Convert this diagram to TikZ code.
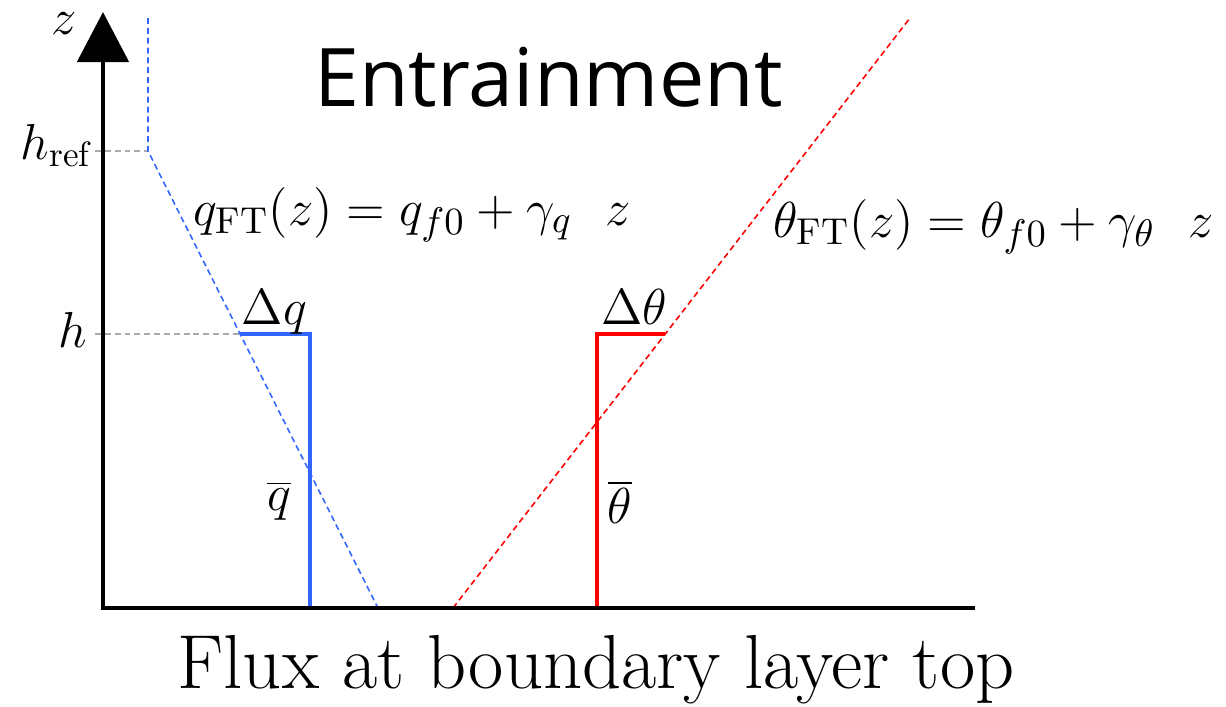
\documentclass[tikz,border=0pt]{standalone}
\usepackage{fontspec}
\newfontfamily\titlefont{Open Sans}
\usetikzlibrary{arrows.meta}
\definecolor{qblue}{RGB}{51,102,255}
\definecolor{tred}{RGB}{255,0,0}
\definecolor{guide}{RGB}{170,170,170}
\tikzset{
  axisline/.style={line width=1.4pt},
  profile/.style={line width=1.4pt, line join=miter},
  ftline/.style={line width=0.45pt, dash pattern=on 1.7pt off 1.1pt},
  guideline/.style={draw=guide, line width=0.45pt, dash pattern=on 1.7pt off 1.1pt},
  mlabel/.style={font=\fontsize{14.3}{17}\selectfont, inner sep=0pt},
  flabel/.style={font=\fontsize{15.2}{18}\selectfont, inner sep=0pt},
}
\begin{document}
\begin{tikzpicture}
\useasboundingbox (0,0) rectangle (12.26,7.06);
% coordinates
\coordinate (O) at (1.03,0.98);
\coordinate (xend) at (9.75,0.98);
\coordinate (ztip) at (1.03,6.94);
\coordinate (hrefax) at (0.95,5.55);
\coordinate (hax) at (0.95,3.72);
\coordinate (btop) at (1.48,6.88);
\coordinate (bref) at (1.48,5.55);
\coordinate (bbot) at (3.78,0.98);
\coordinate (qh) at (2.40,3.72);
\coordinate (qc) at (3.10,3.72);
\coordinate (qb) at (3.10,0.98);
\coordinate (rbot) at (4.53,0.98);
\coordinate (rtop) at (9.10,6.88);
\coordinate (tb) at (5.97,0.98);
\coordinate (tc) at (5.97,3.72);
\coordinate (th) at (6.65,3.72);
% guides
\draw[guideline] (hrefax) -- (bref);
\draw[guideline] (hax) -- (qh);
% free troposphere lines
\draw[ftline, draw=qblue] (btop) -- (bref) -- (bbot);
\draw[ftline, draw=tred] (rbot) -- (rtop);
% mixed layer profiles
\draw[profile, draw=qblue] (qh) -- (qc) -- (qb);
\draw[profile, draw=tred] (tb) -- (tc) -- (th);
% axes
\draw[axisline, -{Triangle[width=0.51cm,length=0.5cm]}] (xend) -- (O) -- (ztip);
% labels
\node[mlabel, anchor=base] (zl) at (0.64,6.72) {$z$};
\node[mlabel, anchor=base east] (hrefl) at (0.92,5.47) {$h_{\mathrm{ref}}$};
\node[mlabel, anchor=base east] (hl) at (0.88,3.59) {$h$};
\node[mlabel, anchor=base] (dq) at (2.745,3.82) {$\Delta q$};
\node[mlabel, anchor=base] (dt) at (6.34,3.82) {$\Delta\theta$};
\node[mlabel, anchor=base] (qbar) at (2.79,1.96) {$\overline{q}$};
\node[mlabel, anchor=base] (tbar) at (6.20,1.83) {$\overline{\theta}$};
\node[flabel, anchor=base west] (qft) at (1.93,4.81) {$q_{\mathrm{FT}}(z) = q_{f0} + \gamma_q\hspace{0.62em}z$};
\node[flabel, anchor=base west] (tft) at (7.73,4.69) {$\theta_{\mathrm{FT}}(z) = \theta_{f0} + \gamma_\theta\hspace{0.62em}z$};
\node[inner sep=0pt, anchor=base, font=\titlefont\fontsize{23}{28}\selectfont] (title) at (5.485,6.00) {Entrainment};
\node[inner sep=0pt, anchor=base, font=\fontsize{21.8}{26}\selectfont] (xlabel) at (5.96,0.18) {Flux at boundary layer top};
\end{tikzpicture}
\end{document}
